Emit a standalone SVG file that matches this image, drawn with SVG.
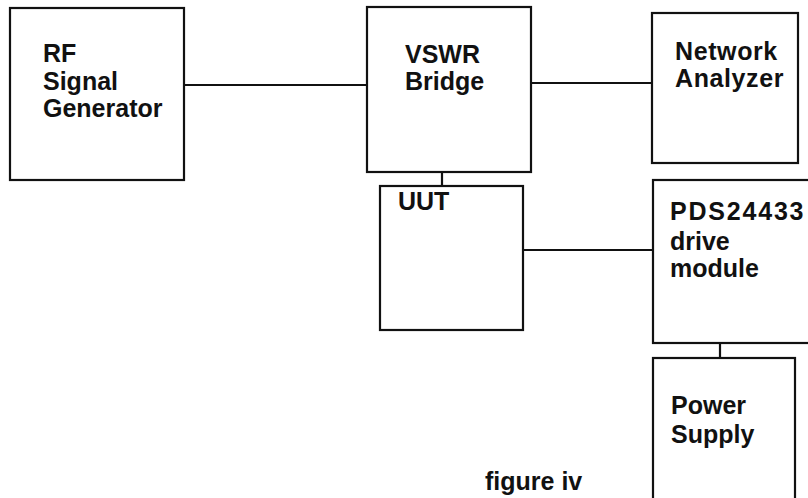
<svg xmlns="http://www.w3.org/2000/svg" width="808" height="498" viewBox="0 0 808 498">
<style>
.box{fill:none;stroke:#111;stroke-width:2.2}
.wire{fill:none;stroke:#111;stroke-width:2.2}
.lbl{font-family:"Liberation Sans",Arial,sans-serif;font-weight:bold;font-size:25px;fill:#111}
</style>
<rect x="0" y="0" width="808" height="498" fill="#fff"/>
<g id="connectors">
<line class="wire" x1="184" y1="85" x2="367" y2="85"/>
<line class="wire" x1="531" y1="83" x2="652" y2="83"/>
<line class="wire" x1="442" y1="172" x2="442" y2="186"/>
<line class="wire" x1="523" y1="250" x2="653" y2="250"/>
<line class="wire" x1="720" y1="343" x2="720" y2="358"/>
</g>
<g id="rf">
<rect class="box" x="10" y="8" width="174" height="172"/>
<text class="lbl" x="43" y="62">RF</text>
<text class="lbl" x="43" y="90">Signal</text>
<text class="lbl" x="43" y="117">Generator</text>
</g>
<g id="vswr">
<rect class="box" x="367" y="7" width="164" height="165"/>
<text class="lbl" x="405" y="63">VSWR</text>
<text class="lbl" x="405" y="90">Bridge</text>
</g>
<g id="network">
<rect class="box" x="652" y="13" width="146" height="150"/>
<text class="lbl" x="675" y="60" letter-spacing="0.6">Network</text>
<text class="lbl" x="675" y="87" letter-spacing="0.6">Analyzer</text>
</g>
<g id="uut">
<rect class="box" x="380" y="186" width="143" height="144"/>
<text class="lbl" x="398" y="210">UUT</text>
</g>
<g id="pds">
<rect class="box" x="653" y="180" width="170" height="163"/>
<text class="lbl" x="670" y="220" letter-spacing="1.8">PDS24433</text>
<text class="lbl" x="670" y="250">drive</text>
<text class="lbl" x="670" y="277">module</text>
</g>
<g id="power">
<rect class="box" x="653" y="358" width="142" height="170"/>
<text class="lbl" x="671" y="414">Power</text>
<text class="lbl" x="671" y="443">Supply</text>
</g>
<text class="lbl" x="485" y="490">figure iv</text>
</svg>
